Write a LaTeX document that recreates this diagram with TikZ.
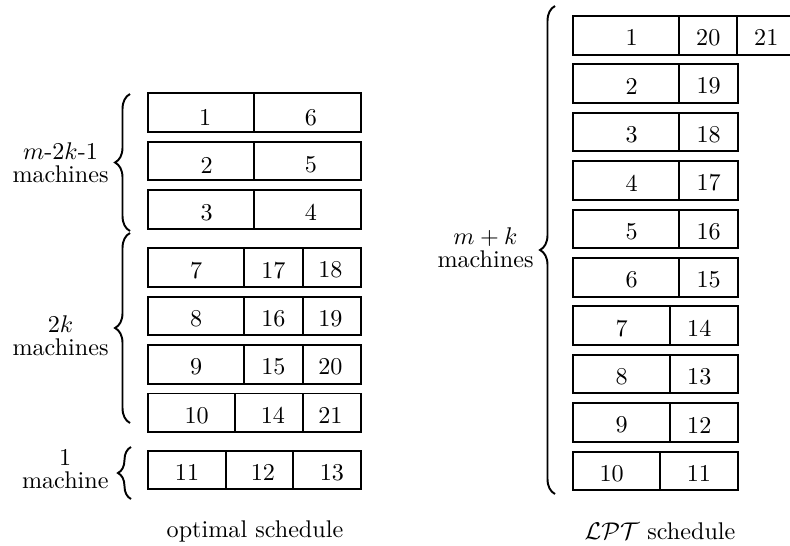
\documentclass[tikz,border=0pt]{standalone}
\usetikzlibrary{fit,decorations.pathreplacing}
\begin{document}
\begin{tikzpicture}[x=0.4142pt,y=-0.4142pt,
  % a job cell: {label}{horizontal offset}{downward offset}, offsets in px units
  cell/.style n args={3}{draw,line width=0.8pt,rectangle,inner sep=0pt,outer sep=0pt,
    label={[inner sep=0pt,xshift={#2*0.4142pt},yshift={-#3*0.4142pt}]center:#1}},
  bracel/.style={decorate,line width=0.8pt,decoration={brace,amplitude=6.2pt}},
  lbl/.style={align=center,inner sep=0pt,anchor=east}]
\useasboundingbox (0,0) rectangle (790,545);

% ---- optimal schedule ----
% two-job machines
\node[cell={1}{4}{5},fit={(148,93.3) (254.3,131.9)}]   (o1a) {};
\node[cell={6}{3.3}{5},fit={(254.3,93.3) (361,131.9)}] (o1b) {};
\node[cell={2}{5.5}{4},fit={(148,141.7) (254.3,180.3)}]  (o2a) {};
\node[cell={5}{3.3}{4},fit={(254.3,141.7) (361,180.3)}]  (o2b) {};
\node[cell={3}{5.5}{3},fit={(148,190.1) (254.3,228.7)}]  (o3a) {};
\node[cell={4}{3.3}{3},fit={(254.3,190.1) (361,228.7)}]  (o3b) {};
% three-job machines
\node[cell={7}{0}{2.5},fit={(148,248.3) (244.3,286.9)}]      (o4a) {};
\node[cell={17}{0}{2.5},fit={(244.3,248.3) (302.7,286.9)}]   (o4b) {};
\node[cell={18}{-1.5}{2.5},fit={(302.7,248.3) (361,286.9)}]  (o4c) {};
\node[cell={8}{0}{2.5},fit={(148,296.7) (244.3,335.3)}]      (o5a) {};
\node[cell={16}{0}{2.5},fit={(244.3,296.7) (302.7,335.3)}]   (o5b) {};
\node[cell={19}{-1.5}{2.5},fit={(302.7,296.7) (361,335.3)}]  (o5c) {};
\node[cell={9}{0}{2.5},fit={(148,345.1) (244.3,383.7)}]      (o6a) {};
\node[cell={15}{0}{2.5},fit={(244.3,345.1) (302.7,383.7)}]   (o6b) {};
\node[cell={20}{-1.5}{2.5},fit={(302.7,345.1) (361,383.7)}]  (o6c) {};
\node[cell={10}{5}{2.5},fit={(148,393.5) (235.3,432.1)}]     (o7a) {};
\node[cell={14}{4}{2.5},fit={(235.3,393.5) (302.7,432.1)}]   (o7b) {};
\node[cell={21}{-1.5}{2.5},fit={(302.7,393.5) (361,432.1)}]  (o7c) {};
% last machine
\node[cell={11}{0}{2.5},fit={(148,450.7) (226,489.3)}]       (o8a) {};
\node[cell={12}{3.3}{2.5},fit={(226,450.7) (293.3,489.3)}]   (o8b) {};
\node[cell={13}{4.7}{2.5},fit={(293.3,450.7) (361,489.3)}]   (o8c) {};

\coordinate (bAt) at (130,94);  \coordinate (bAb) at (130,231);
\coordinate (bBt) at (130,233); \coordinate (bBb) at (130,423);
\coordinate (bCt) at (131,447); \coordinate (bCb) at (131,499);
\draw[bracel] (bAb) -- (bAt);
\draw[bracel] (bBb) -- (bBt);
\draw[bracel,decoration={amplitude=5.4pt}] (bCb) -- (bCt);

\node[lbl] (lA) at (109,163) {$m$-$2k$-1\\[-2.3pt]machines};
\node[lbl] (lB) at (109,336) {$2k$\\[-2.3pt]machines};
\node[lbl] (lC) at (109,469) {1\\[-2.3pt]machine};
\node (capL) at (255,531) {optimal schedule};

% ---- LPT schedule ----
\node[cell={1}{5.4}{2.5},fit={(573.3,16) (679.3,54.6)}]       (p1a) {};
\node[cell={20}{0}{2.5},fit={(679.3,16) (737.3,54.6)}]        (p1b) {};
\node[cell={21}{0}{2.5},fit={(737.3,16) (795.3,54.6)}]        (p1c) {};
\node[cell={2}{5.4}{2.5},fit={(573.3,64.4) (679.3,103)}]      (p2a) {};
\node[cell={19}{0}{2.5},fit={(679.3,64.4) (738,103)}]         (p2b) {};
\node[cell={3}{5.4}{2.5},fit={(573.3,112.8) (679.3,151.4)}]   (p3a) {};
\node[cell={18}{0}{2.5},fit={(679.3,112.8) (738,151.4)}]      (p3b) {};
\node[cell={4}{5.4}{2.5},fit={(573.3,161.2) (679.3,199.8)}]   (p4a) {};
\node[cell={17}{0}{2.5},fit={(679.3,161.2) (738,199.8)}]      (p4b) {};
\node[cell={5}{5.4}{2.5},fit={(573.3,209.6) (679.3,248.2)}]   (p5a) {};
\node[cell={16}{0}{2.5},fit={(679.3,209.6) (738,248.2)}]      (p5b) {};
\node[cell={6}{5.4}{2.5},fit={(573.3,258) (679.3,296.6)}]     (p6a) {};
\node[cell={15}{0}{2.5},fit={(679.3,258) (738,296.6)}]        (p6b) {};
\node[cell={7}{0}{2.5},fit={(573.3,306.4) (670,345)}]         (p7a) {};
\node[cell={14}{-4.7}{2.5},fit={(670,306.4) (738,345)}]       (p7b) {};
\node[cell={8}{0}{2.5},fit={(573.3,354.8) (670,393.4)}]       (p8a) {};
\node[cell={13}{-4.7}{2.5},fit={(670,354.8) (738,393.4)}]     (p8b) {};
\node[cell={9}{0}{2.5},fit={(573.3,403.2) (670,441.8)}]       (p9a) {};
\node[cell={12}{-4.7}{2.5},fit={(670,403.2) (738,441.8)}]     (p9b) {};
\node[cell={10}{-5}{2.5},fit={(573.3,451.6) (660,490.2)}]     (p10a) {};
\node[cell={11}{0}{2.5},fit={(660,451.6) (738,490.2)}]        (p10b) {};

\coordinate (bDt) at (555,6); \coordinate (bDb) at (555,494);
\draw[bracel] (bDb) -- (bDt);

\node[lbl] (lD) at (534,248) {$m+k$\\[-2.3pt]machines};
\node (capR) at (660,531) {$\mathcal{LPT}$ schedule};
\end{tikzpicture}
\end{document}
